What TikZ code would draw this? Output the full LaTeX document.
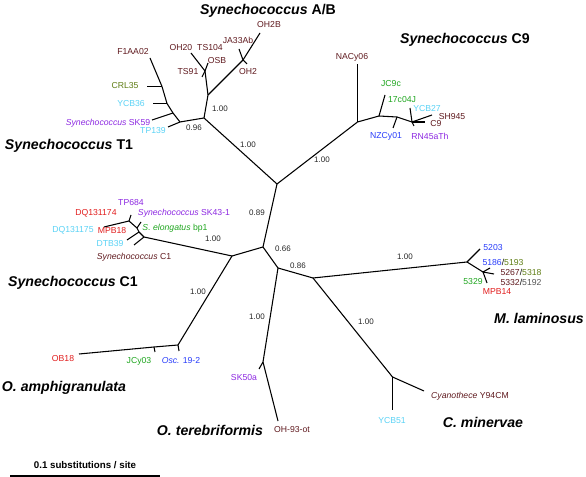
\documentclass[tikz,border=0pt]{standalone}
\usepackage{fontspec}
\setmainfont{Liberation Sans}
\definecolor{strbrown}{RGB}{95,25,30}
\definecolor{strolive}{RGB}{95,125,20}
\definecolor{strcyan}{RGB}{90,210,245}
\definecolor{strpurple}{RGB}{140,40,225}
\definecolor{strgreen}{RGB}{30,165,30}
\definecolor{strblue}{RGB}{40,60,250}
\definecolor{strred}{RGB}{225,30,30}
\definecolor{strgray}{RGB}{85,85,85}
\begin{document}
\begin{tikzpicture}[x=0.75pt,y=-0.75pt,
    branch/.style={line width=0.8pt,black},
    leaf/.style={font=\fontsize{6.5}{7}\selectfont,inner sep=0pt},
    support/.style={font=\fontsize{6}{7}\selectfont,inner sep=0pt,text=black!85},
    clade/.style={font=\fontsize{10.6}{12}\selectfont\bfseries,inner sep=0pt},
    cladeit/.style={clade,font=\fontsize{10.6}{12}\selectfont\bfseries\itshape}]
\useasboundingbox (0,0) rectangle (586,477);

    %Nodos internos
    \coordinate (root) at (277,184);
    \coordinate (tab) at (204,118);
    \coordinate (t1) at (180,122);
    \coordinate (ab) at (208,95);
    \coordinate (c9) at (357.5,122);
    \coordinate (b1) at (263,247);
    \coordinate (c1o) at (232,256);
    \coordinate (b2) at (278,268);
    \coordinate (b3) at (313,278);
    \coordinate (c1) at (144,237);
    \coordinate (oa) at (178,345);
    \coordinate (ot) at (263,362);
    \coordinate (ml) at (467,262);
    \coordinate (cm) at (392.5,377);

    %Ramas principales
    \foreach \a/\b in {root/tab,root/c9,root/b1,b1/c1o,b1/b2,b2/b3,tab/t1,tab/ab,
        c1o/c1,c1o/oa,b2/ot,b3/ml,b3/cm}{
        \draw[branch] (\a) -- (\b);
    }
    \foreach \x/\y/\v [count=\i] in {248/145/1.00,322/160/1.00,257/213/0.89,194/128/0.96,
        220/109/1.00,213/239/1.00,283/249/0.66,298/266/0.86,198/292/1.00,257/317/1.00,
        405/257/1.00,366/322/1.00}{
        \node[support] (s\i) at (\x,\y) {\v};
    }

    %Synechococcus T1
    \coordinate (t1a) at (173,113);
    \coordinate (t1b) at (167,103.5);
    \coordinate (t1c) at (162,86.5);
    \coordinate (eF1AA02) at (150,58);
    \coordinate (eTP139) at (168,127);
    \coordinate (eSK59) at (152,120);
    \coordinate (eYCB36) at (153,103.5);
    \coordinate (eCRL35) at (147,86.5);
    \foreach \a/\b in {t1/t1a,t1a/t1b,t1b/t1c,t1c/eF1AA02,t1/eTP139,t1a/eSK59,t1b/eYCB36,t1c/eCRL35}{
        \draw[branch] (\a) -- (\b);
    }
    \node[leaf,strbrown] (nF1AA02) at (133,52) {F1AA02};
    \node[leaf,strolive] (nCRL35) at (125,86) {CRL35};
    \node[leaf,strcyan] (nYCB36) at (131,104) {YCB36};
    \node[leaf,strpurple] (nSK59) at (108,123) {\textit{Synechococcus} SK59};
    \node[leaf,strcyan] (nTP139) at (153,131) {TP139};

    %Synechococcus A/B
    \coordinate (abL) at (205,71);
    \coordinate (abM) at (243,60);
    \coordinate (eOH20) at (191,53);
    \coordinate (eOSB) at (208,63);
    \coordinate (eTS91) at (202,77);
    \coordinate (eOH2B) at (260,33);
    \coordinate (eJA33Ab) at (239,49);
    \coordinate (eOH2) at (247,64);
    \foreach \a/\b in {ab/abL,abL/eOH20,abL/eOSB,abL/eTS91,ab/abM,abM/eOH2B,abM/eJA33Ab,abM/eOH2}{
        \draw[branch] (\a) -- (\b);
    }
    \node[leaf,strbrown] (nOH20) at (181,48) {OH20};
    \node[leaf,strbrown] (nTS104) at (210,48) {TS104};
    \node[leaf,strbrown] (nOSB) at (217,61) {OSB};
    \node[leaf,strbrown] (nTS91) at (188,72) {TS91};
    \node[leaf,strbrown] (nJA33Ab) at (238,40) {JA33Ab};
    \node[leaf,strbrown] (nOH2B) at (269,25) {OH2B};
    \node[leaf,strbrown] (nOH2) at (248,72) {OH2};

    %Synechococcus C9
    \coordinate (c9a) at (379,116);
    \coordinate (c9b) at (397,117);
    \coordinate (c9c) at (412,122);
    \coordinate (eNACy06) at (357.5,64);
    \coordinate (eJC9c) at (385,95);
    \coordinate (eNZCy01) at (393,128);
    \coordinate (eYCB27) at (410,108);
    \coordinate (eSH945) at (432,115);
    \coordinate (eC9) at (425,122);
    \coordinate (eRN45aTh) at (414,126);
    \foreach \a/\b in {c9/eNACy06,c9/c9a,c9a/eJC9c,c9a/c9b,c9b/eNZCy01,c9b/c9c,c9c/eYCB27,
        c9c/eSH945,c9c/eC9,c9c/eRN45aTh}{
        \draw[branch] (\a) -- (\b);
    }
    \node[leaf,strbrown] (nNACy06) at (352,57) {NACy06};
    \node[leaf,strgreen] (nJC9c) at (391,84) {JC9c};
    \node[leaf,strgreen] (n17c04J) at (402,100) {17c04J};
    \node[leaf,strcyan] (nYCB27) at (427,109) {YCB27};
    \node[leaf,strbrown] (nSH945) at (452,117) {SH945};
    \node[leaf,strbrown] (nC9) at (436,124) {C9};
    \node[leaf,strblue] (nNZCy01) at (386,136) {NZCy01};
    \node[leaf,strpurple] (nRN45aTh) at (430,136) {RN45aTh};

    %Synechococcus C1
    \coordinate (c1a) at (137,228);
    \coordinate (c1b) at (129,221);
    \coordinate (c1c) at (139,232);
    \coordinate (eDQ131175) at (104,227);
    \coordinate (eTP684) at (131,215);
    \coordinate (eSK43) at (141,222);
    \coordinate (eMPB18) at (127,240);
    \coordinate (eDTB39) at (134,245);
    \foreach \a/\b in {c1/c1c,c1c/c1a,c1a/c1b,c1b/eDQ131175,c1b/eTP684,c1a/eSK43,c1c/eMPB18,c1/eDTB39}{
        \draw[branch] (\a) -- (\b);
    }
    \node[leaf,strpurple] (nTP684) at (131,203) {TP684};
    \node[leaf,strred] (nDQ131174) at (96,213) {DQ131174};
    \node[leaf,strpurple] (nSK43) at (184,213) {\textit{Synechococcus} SK43-1};
    \node[leaf,strcyan] (nDQ131175) at (73,230) {DQ131175};
    \node[leaf,strred] (nMPB18) at (112,231) {MPB18};
    \node[leaf,strgreen] (nSelong) at (175,228) {\textit{S. elongatus} bp1};
    \node[leaf,strcyan] (nDTB39) at (110,244) {DTB39};
    \node[leaf,strbrown] (nSynC1) at (134,257) {\textit{Synechococcus} C1};

    %O. amphigranulata
    \coordinate (oa1) at (154,347);
    \coordinate (eOB18) at (79,354);
    \coordinate (eJCy03) at (155,352);
    \coordinate (eOsc) at (179,351);
    \foreach \a/\b in {oa/oa1,oa1/eOB18,oa1/eJCy03,oa/eOsc}{
        \draw[branch] (\a) -- (\b);
    }
    \node[leaf,strred] (nOB18) at (63,359) {OB18};
    \node[leaf,strgreen] (nJCy03) at (139,361) {JCy03};
    \node[leaf,strblue] (nOsc) at (181,361) {\textit{Osc.} 19-2};

    %O. terebriformis
    \coordinate (eSK50a) at (259,369);
    \coordinate (eOH93) at (278,421);
    \draw[branch] (ot) -- (eSK50a);
    \draw[branch] (ot) -- (eOH93);
    \node[leaf,strpurple] (nSK50a) at (244,378) {SK50a};
    \node[leaf,strbrown] (nOH93) at (292,430) {OH-93-ot};

    %M. laminosus
    \coordinate (mla) at (483,272);
    \coordinate (e5203) at (480,249);
    \coordinate (e5267) at (494,274);
    \coordinate (e5329) at (487,283);
    \coordinate (e5186) at (490,268);
    \foreach \a/\b in {ml/e5203,ml/mla,mla/e5267,mla/e5329,mla/e5186}{
        \draw[branch] (\a) -- (\b);
    }
    \node[leaf,strblue] (n5203) at (493,248) {5203};
    \node[leaf] (n5186) at (503,262) {\textcolor{strblue}{5186}/\textcolor{strolive}{5193}};
    \node[leaf] (n5267) at (521,272) {\textcolor{strbrown}{5267}/\textcolor{strolive}{5318}};
    \node[leaf] (n5332) at (521,282) {\textcolor{strbrown}{5332}/\textcolor{strgray}{5192}};
    \node[leaf,strgreen] (n5329) at (473,282) {5329};
    \node[leaf,strred] (nMPB14) at (497,292) {MPB14};

    %C. minervae
    \coordinate (eYCB51) at (392.5,410);
    \coordinate (eY94CM) at (424,391);
    \draw[branch] (cm) -- (eYCB51);
    \draw[branch] (cm) -- (eY94CM);
    \node[leaf,strcyan] (nYCB51) at (392,421) {YCB51};
    \node[leaf,strbrown] (nY94CM) at (470,396) {\textit{Cyanothece} Y94CM};

    %Nombres de los clados
    \node[clade] (kAB) at (268,11) {\textit{Synechococcus} A/B};
    \node[clade] (kC9) at (465,40) {\textit{Synechococcus} C9};
    \node[clade] (kT1) at (69,146) {\textit{Synechococcus} T1};
    \node[clade] (kC1) at (73,283) {\textit{Synechococcus} C1};
    \node[cladeit] (kOA) at (64,388) {O. amphigranulata};
    \node[cladeit] (kOT) at (210,430) {O. terebriformis};
    \node[cladeit] (kML) at (539,318) {M. laminosus};
    \node[cladeit] (kCM) at (483,422) {C. minervae};

    %Escala
    \coordinate (sb1) at (10,476);
    \coordinate (sb2) at (160,476);
    \draw[line width=0.8pt] (sb1) -- (sb2);
    \node[font=\fontsize{7.3}{8}\selectfont\bfseries,inner sep=0pt] (scale) at (85,465) {0.1 substitutions / site};
\end{tikzpicture}
\end{document}
